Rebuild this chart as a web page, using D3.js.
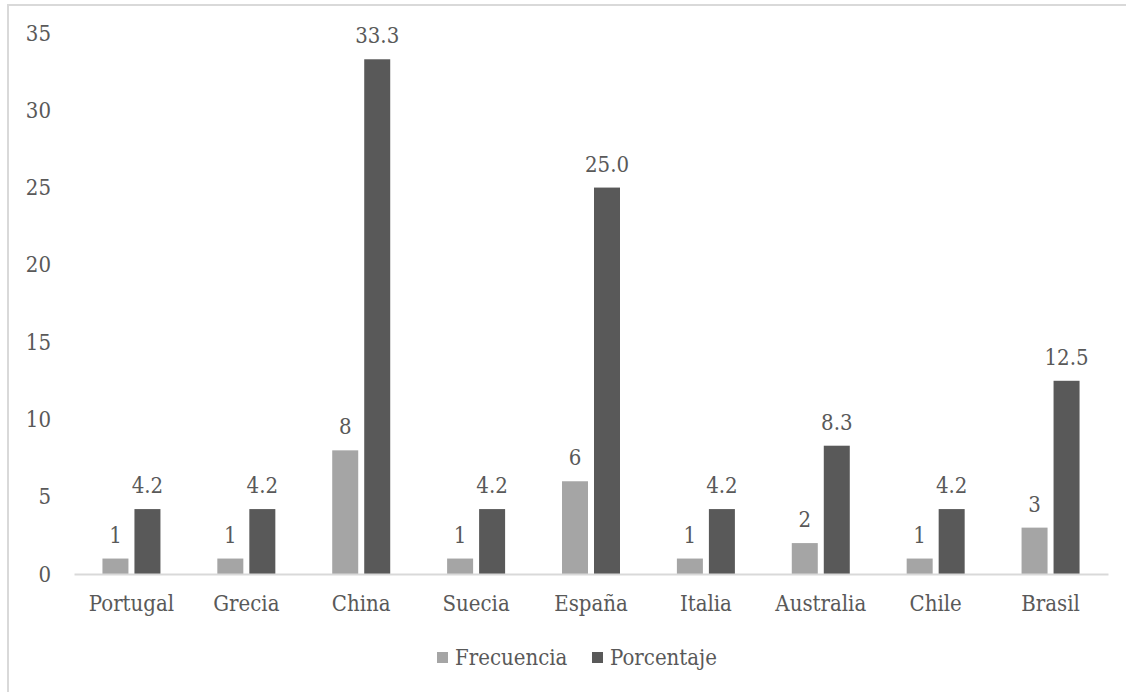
<!DOCTYPE html>
<html>
<head>
<meta charset="utf-8">
<script src="https://cdn.jsdelivr.net/npm/d3@7"></script>
<style>
  body { margin: 0; background: #fff; }
  svg text { font-family: "DejaVu Serif", serif; font-stretch: condensed; fill: #595959; }
</style>
</head>
<body>
<div id="chart"></div>
<script>
let width = 1126,
    height = 692,
    margin = ({ top: 33, right: 18, bottom: 118, left: 74 });

const countries = ["Portugal", "Grecia", "China", "Suecia", "España", "Italia", "Australia", "Chile", "Brasil"];
const seriesNames = ["Frecuencia", "Porcentaje"];
const frecuencia = [1, 1, 8, 1, 6, 1, 2, 1, 3];
const porcentaje = [4.2, 4.2, 33.3, 4.2, 25.0, 4.2, 8.3, 4.2, 12.5];
const yTicks = [0, 5, 10, 15, 20, 25, 30, 35];
const colors = ["#a5a5a5", "#595959"];

const data = countries.map((c, i) => ({ country: c, values: [frecuencia[i], porcentaje[i]] }));

const svg = d3.select("#chart")
  .append("svg")
  .attr("width", width)
  .attr("height", height);

// outer frame (cut off at right and bottom like the source)
svg.append("rect")
  .attr("x", 8).attr("y", 5)
  .attr("width", width + 20).attr("height", height + 20)
  .attr("fill", "none")
  .attr("stroke", "#d9d9d9")
  .attr("stroke-width", 2);

let x = d3.scaleBand()
  .domain(countries)
  .range([margin.left, width - margin.right]);

let bw = x.bandwidth();
let x1 = d3.scaleBand()
  .domain(seriesNames)
  .range([bw / 2 - 29, bw / 2 + 29])
  .paddingInner(0.1875);

let y = d3.scaleLinear()
  .domain([0, 35])
  .range([height - margin.bottom, margin.top]);

// y axis labels only
svg.append("g")
  .attr("transform", `translate(${margin.left - 16},0)`)
  .call(d3.axisLeft(y).tickValues(yTicks).tickSize(0).tickPadding(7))
  .call(g => g.select(".domain").remove())
  .call(g => g.selectAll("text").attr("font-size", 22).attr("font-family", null).attr("fill", null));

// bars
const groups = svg.append("g")
  .selectAll("g")
  .data(data)
  .join("g")
  .attr("transform", d => `translate(${x(d.country)},0)`);

groups.selectAll("rect")
  .data(d => d.values.map((v, i) => ({ key: seriesNames[i], v: v, i: i })))
  .join("rect")
  .attr("x", d => x1(d.key))
  .attr("y", d => y(d.v))
  .attr("width", x1.bandwidth())
  .attr("height", d => y(0) - y(d.v))
  .attr("fill", d => colors[d.i]);

groups.selectAll("text.val")
  .data(d => d.values.map((v, i) => ({ key: seriesNames[i], v: v, i: i })))
  .join("text")
  .attr("class", "val")
  .attr("x", d => x1(d.key) + x1.bandwidth() / 2)
  .attr("y", d => y(d.v) - 16)
  .attr("text-anchor", "middle")
  .attr("font-size", 22)
  .text(d => d.i === 0 ? d3.format("d")(d.v) : d3.format(".1f")(d.v));

// x axis
svg.append("g")
  .attr("transform", `translate(0,${y(0)})`)
  .call(d3.axisBottom(x).tickSize(0).tickPadding(21))
  .call(g => g.select(".domain").attr("stroke", "#d9d9d9").attr("stroke-width", 2))
  .call(g => g.selectAll("text").attr("font-size", 22).attr("font-family", null).attr("fill", null));

// legend
const legend = svg.append("g");
const legendX = [437, 592];
seriesNames.forEach((s, i) => {
  legend.append("rect")
    .attr("x", legendX[i]).attr("y", 652)
    .attr("width", 11).attr("height", 11)
    .attr("fill", colors[i]);
  legend.append("text")
    .attr("x", legendX[i] + 18).attr("y", 665)
    .attr("font-size", 22)
    .text(s);
});
</script>
</body>
</html>
